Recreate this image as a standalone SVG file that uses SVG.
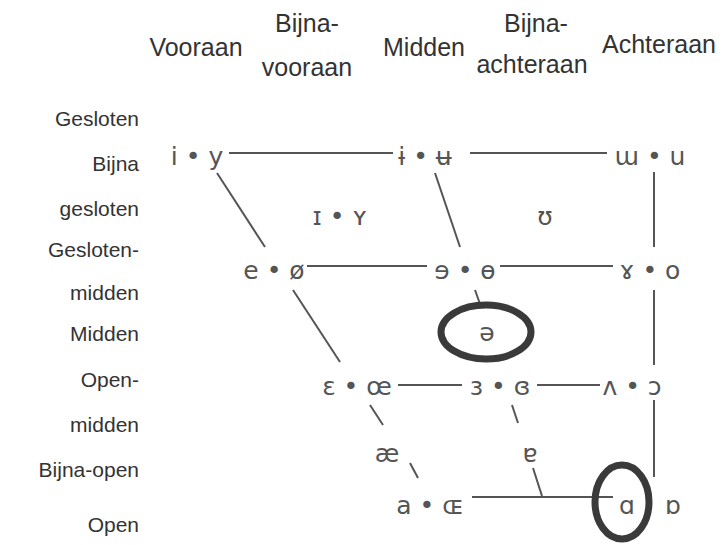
<svg xmlns="http://www.w3.org/2000/svg" width="722" height="545" viewBox="0 0 722 545">
<style>
.hd{font-family:"Liberation Sans",Arial,sans-serif;font-size:25px;fill:#333;text-anchor:middle}
.lb{font-family:"Liberation Sans",Arial,sans-serif;font-size:21px;fill:#333;text-anchor:end}
.v{font-family:"DejaVu Sans",sans-serif;font-size:25px;fill:#555;text-anchor:middle}
.ln{stroke:#555;stroke-width:2;fill:none}
.ring{stroke:#3a3a3a;stroke-width:7;fill:none}
</style>
<rect width="722" height="545" fill="#fff"/>
<g id="headers">
<text class="hd" x="196" y="56">Vooraan</text>
<text class="hd" x="307" y="32">Bijna-</text>
<text class="hd" x="307" y="76">vooraan</text>
<text class="hd" x="424" y="56">Midden</text>
<text class="hd" x="536" y="32">Bijna-</text>
<text class="hd" x="532" y="73">achteraan</text>
<text class="hd" x="659" y="53">Achteraan</text>
</g>
<g id="rowlabels">
<text class="lb" x="139" y="126">Gesloten</text>
<text class="lb" x="139" y="171">Bijna</text>
<text class="lb" x="139" y="216">gesloten</text>
<text class="lb" x="139" y="257">Gesloten-</text>
<text class="lb" x="139" y="300">midden</text>
<text class="lb" x="139" y="341">Midden</text>
<text class="lb" x="139" y="387">Open-</text>
<text class="lb" x="139" y="432">midden</text>
<text class="lb" x="139" y="477">Bijna-open</text>
<text class="lb" x="139" y="532">Open</text>
</g>
<g id="connectors">
<line class="ln" x1="229" y1="153" x2="393" y2="153"/>
<line class="ln" x1="470" y1="153" x2="607" y2="153"/>
<line class="ln" x1="307" y1="266" x2="427" y2="266"/>
<line class="ln" x1="500" y1="266" x2="613" y2="266"/>
<line class="ln" x1="398" y1="385" x2="462" y2="385"/>
<line class="ln" x1="537" y1="385" x2="600" y2="385"/>
<line class="ln" x1="472" y1="497" x2="613" y2="497"/>
<line class="ln" x1="217" y1="173" x2="265" y2="247"/>
<line class="ln" x1="293" y1="290" x2="340" y2="362"/>
<line class="ln" x1="370" y1="405" x2="383" y2="425"/>
<line class="ln" x1="410" y1="463" x2="418" y2="478"/>
<line class="ln" x1="435" y1="173" x2="460" y2="247"/>
<line class="ln" x1="475" y1="290" x2="480" y2="304"/>
<line class="ln" x1="512" y1="405" x2="518" y2="423"/>
<line class="ln" x1="533" y1="468" x2="542" y2="496"/>
<line class="ln" x1="654" y1="172" x2="654" y2="247"/>
<line class="ln" x1="654" y1="290" x2="654" y2="365"/>
<line class="ln" x1="654" y1="400" x2="654" y2="477"/>
</g>
<g id="n-iy"><text class="v" x="197" y="165">i • y</text></g>
<g id="n-ʉ"><text class="v" x="425" y="165">ɨ • ʉ</text></g>
<g id="n-u"><text class="v" x="650" y="165">ɯ • u</text></g>
<g id="n-I"><text class="v" x="340" y="225">ɪ • ʏ</text></g>
<g id="n-U"><text class="v" x="545" y="225">ʊ</text></g>
<g id="n-e"><text class="v" x="274" y="279">e • ø</text></g>
<g id="n-schwa-e"><text class="v" x="465" y="279">ɘ • ɵ</text></g>
<g id="n-o"><text class="v" x="650" y="279">ɤ • o</text></g>
<g id="n-schwa"><ellipse class="ring" cx="486" cy="332" rx="45" ry="27"/><text class="v" x="487" y="341">ə</text></g>
<g id="n-E"><text class="v" x="357" y="395">ɛ • œ</text></g>
<g id="n-3"><text class="v" x="500" y="395">ɜ • ɞ</text></g>
<g id="n-O"><text class="v" x="632" y="395">ʌ • ɔ</text></g>
<g id="n-ae"><text class="v" x="387" y="462">æ</text></g>
<g id="n-6"><text class="v" x="530" y="462">ɐ</text></g>
<g id="n-a"><text class="v" x="430" y="514">a • ɶ</text></g>
<g id="n-A"><ellipse class="ring" cx="622" cy="502" rx="27" ry="37"/><text class="v" x="627" y="514">ɑ</text></g>
<g id="n-Q"><text class="v" x="673" y="514">ɒ</text></g>
</svg>
